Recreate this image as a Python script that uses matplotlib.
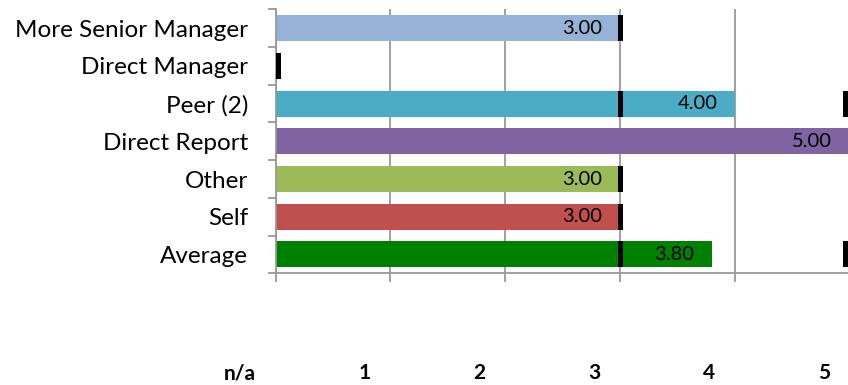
import matplotlib.pyplot as plt
import numpy as np
from matplotlib.transforms import blended_transform_factory

plt.rcParams['font.family'] = ['Lato', 'DejaVu Sans']

categories = ['More Senior Manager', 'Direct Manager', 'Peer (2)', 'Direct Report',
              'Other', 'Self', 'Average']
scores = [3.00, 0.0, 4.00, 5.00, 3.00, 3.00, 3.80]
labels = ['3.00', '', '4.00', '5.00', '3.00', '3.00', '3.80']
range_min = [3, 0, 3, None, 3, 3, 3]
range_max = [None, None, 5, None, None, None, 5]
colors = ['#95B3D7', '#95B3D7', '#4BACC6', '#8064A2', '#9BBB59', '#C0504D', '#008000']
scale_labels = ['n/a', '1', '2', '3', '4', '5']

fig = plt.figure(figsize=(8.48, 3.85), dpi=100)
ax = fig.add_axes([275.5 / 848, 1 - 273.3 / 385, 1 - 275.5 / 848, (273.3 - 9.3) / 385])

xmax = 4.98
y = np.arange(len(categories))[::-1]
ax.barh(y, scores, height=0.69, color=colors, zorder=2)

# value labels inside bar ends
px = xmax / (848 - 275.5)
for yi, s, lab in zip(y, scores, labels):
    if lab:
        ax.text(s - 18 * px, yi, lab, ha='right', va='center', fontsize=14.5, zorder=4)

# black range markers
mw = 5 * px
for yi, lo, hi in zip(y, range_min, range_max):
    for v in (lo, hi):
        if v is None:
            continue
        left = min(max(v - mw / 2, 0), xmax - mw)
        ax.barh(yi, mw, left=left, height=0.69, color='black', zorder=3)

ax.set_xlim(0, xmax)
ax.set_ylim(-0.5, len(categories) - 0.5)
ax.set_xticks([0, 1, 2, 3, 4])
ax.set_xticklabels([])
ax.tick_params(axis='x', direction='out', length=6.5, width=1.3, color='#999999')
ax.grid(axis='x', color='#999999', linewidth=1.3, zorder=1)
ax.set_axisbelow(True)

ax.set_yticks(np.arange(len(categories) + 1) - 0.5)
ax.set_yticklabels([])
ax.tick_params(axis='y', which='major', direction='out', length=5.8, width=1.3, color='#999999')
ax.set_yticks(y, minor=True)
ax.set_yticklabels(categories, minor=True, fontsize=17.5)
ax.tick_params(axis='y', which='minor', length=0, pad=19.5)

for side in ['top', 'right']:
    ax.spines[side].set_visible(False)
for side in ['left', 'bottom']:
    ax.spines[side].set_color('#999999')
    ax.spines[side].set_linewidth(1.3)

# scale labels below the axis
tr = blended_transform_factory(ax.transData, fig.transFigure)
for i, lab in enumerate(scale_labels):
    ax.text(i - 20 * px, 1 - 373 / 385, lab, transform=tr, ha='right', va='center',
            fontsize=15, fontweight='bold', clip_on=False)

fig.savefig('out.png', dpi=100)
